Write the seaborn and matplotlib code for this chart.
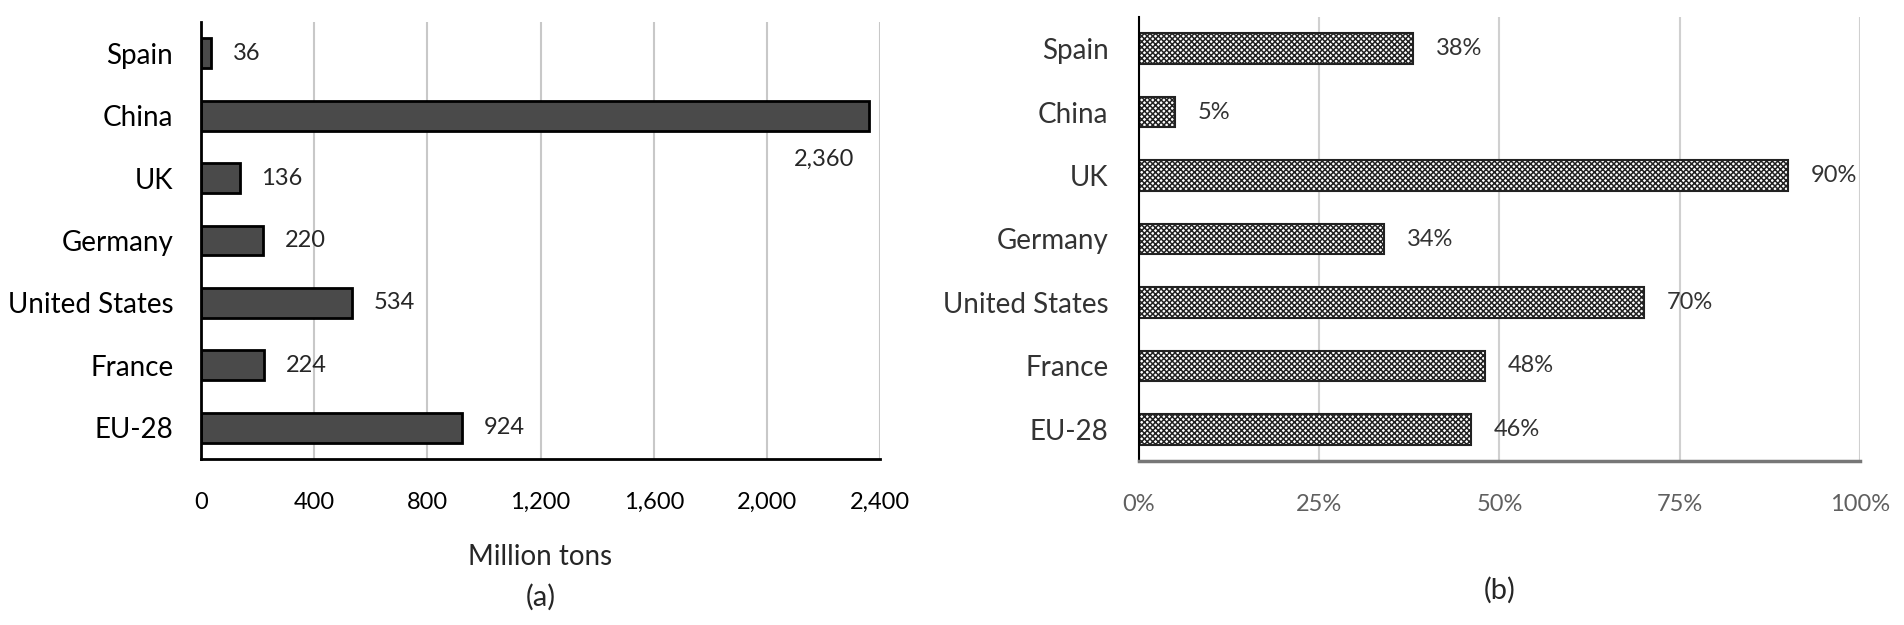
import numpy as np
import pandas as pd
import matplotlib
matplotlib.use("Agg")
import matplotlib.pyplot as plt
import seaborn as sns

# dati (dall'alto verso il basso)
paesi = ["Spain", "China", "UK", "Germany", "United States", "France", "EU-28"]
milioni_ton = [36, 2360, 136, 220, 534, 224, 924]
quota = [38, 5, 90, 34, 70, 48, 46]

tick_a = [0, 400, 800, 1200, 1600, 2000, 2400]
tick_b = [0, 25, 50, 75, 100]

df = pd.DataFrame({"paese": paesi, "mt": milioni_ton, "quota": quota})

sns.set_theme(style="white")
plt.rcParams["font.family"] = ["Lato", "DejaVu Sans"]
plt.rcParams["hatch.linewidth"] = 1.1

fig = plt.figure(figsize=(19.04, 6.25), dpi=100)
ax1 = fig.add_axes([0.1056, 0.2656, 0.3566, 0.6992])
ax2 = fig.add_axes([0.5982, 0.2624, 0.3787, 0.7104])

# grafico (a)
sns.barplot(data=df, x="mt", y="paese", order=paesi, ax=ax1, color="#4a4a4a",
            edgecolor="black", linewidth=2, width=0.48, saturation=1)
ax1.set_xlim(0, 2400)
ax1.set_xticks(tick_a)
ax1.set_xticklabels([f"{t:,}" for t in tick_a], fontsize=17, color="black")
ax1.set_ylabel("")
ax1.set_xlabel("Million tons", fontsize=20, labelpad=22)
ax1.tick_params(axis="y", labelsize=20, length=0, pad=20, labelcolor="black")
ax1.tick_params(axis="x", length=6, width=1.5, color="black", direction="out", pad=18)
ax1.xaxis.grid(True, color="#c8c8c8", linewidth=1.5)
ax1.set_axisbelow(True)
for s in ["top", "right"]:
    ax1.spines[s].set_visible(False)
ax1.spines["left"].set_color("black")
ax1.spines["left"].set_linewidth(2)
ax1.spines["bottom"].set_color("black")
ax1.spines["bottom"].set_linewidth(2)

for i, v in enumerate(milioni_ton):
    if v > 2000:
        # la Cina ha l'etichetta sotto la barra
        ax1.text(v - 50, i + 0.70, f"{v:,}", ha="right", va="center", fontsize=17)
    else:
        ax1.text(v + 75, i, f"{v:,}", ha="left", va="center", fontsize=17)

# grafico (b)
sns.barplot(data=df, x="quota", y="paese", order=paesi, ax=ax2, color="white",
            edgecolor="#222222", linewidth=1.5, width=0.48, saturation=1)
for p in ax2.patches:
    p.set_hatch("xxxxxx")
ax2.set_xlim(0, 100)
ax2.set_xticks(tick_b)
ax2.set_xticklabels([f"{t}%" for t in tick_b], fontsize=17, color="#606060")
ax2.set_ylabel("")
ax2.set_xlabel("")
ax2.tick_params(axis="y", labelsize=20, length=0, pad=22, labelcolor="#333333")
ax2.tick_params(axis="x", length=6, width=1.5, color="#777777", direction="out", pad=18)
ax2.xaxis.grid(True, color="#d0d0d0", linewidth=1.5)
ax2.set_axisbelow(True)
for s in ["top", "right"]:
    ax2.spines[s].set_visible(False)
ax2.spines["left"].set_color("black")
ax2.spines["left"].set_linewidth(1.5)
ax2.spines["bottom"].set_color("#777777")
ax2.spines["bottom"].set_linewidth(2.5)

for i, v in enumerate(quota):
    ax2.text(v + 3.2, i, f"{v}%", ha="left", va="center", fontsize=17, color="#333333")

fig.text(0.2839, 1 - 597 / 625, "(a)", ha="center", va="center", fontsize=21)
fig.text(0.7876, 1 - 590 / 625, "(b)", ha="center", va="center", fontsize=21)

plt.savefig("out.png", dpi=100)
plt.close()
